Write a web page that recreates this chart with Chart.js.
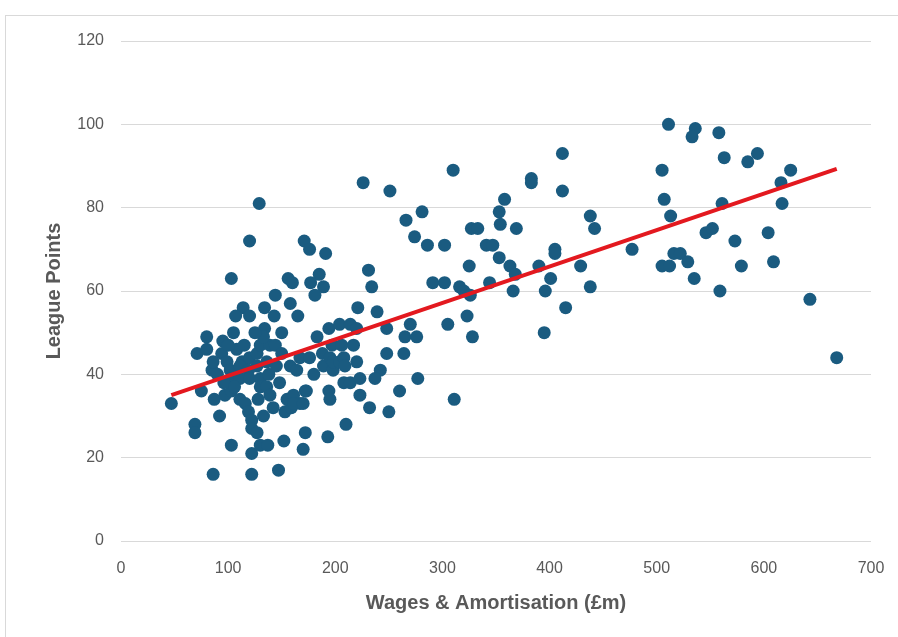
<!DOCTYPE html>
<html>
<head>
<meta charset="utf-8">
<script src="https://cdn.jsdelivr.net/npm/chart.js@4.4.1/dist/chart.umd.min.js"></script>
<style>
  body { margin: 0; background: #fff; }
  #frame { position: absolute; left: 5px; top: 15px; width: 900px; height: 640px; border-left: 1px solid #d9d9d9; border-top: 1px solid #d9d9d9; }
  #myChart { position: absolute; left: 0; top: 0; }
</style>
</head>
<body>
<div id="frame"></div>
<canvas id="myChart" width="898" height="637"></canvas>
<script>
// wages & amortisation (£m) vs league points, one entry per team-season
var wages = [
  47, 69, 69, 71, 80, 80, 75, 85, 86, 94, 99, 87, 92, 86, 103, 103, 120, 129,
  108, 113, 120, 127, 130, 139, 144, 102, 111, 119, 127, 136,
  103, 111, 120, 130, 138, 97, 103, 111, 116, 119, 122, 122, 127, 130, 136, 139,
  122, 130, 137, 152, 122, 147, 170, 172, 193, 210,
  153, 159, 167, 172, 155, 161,
  114, 107, 120, 134, 143, 150, 105, 134, 133,
  144, 156, 160, 158, 165,
  171, 176, 191, 185, 177, 189, 181,
  221, 239, 234, 231, 226, 251,
  158, 164, 167, 176, 180, 183, 188, 189, 194, 195, 197, 198, 198, 204, 204, 206,
  208, 208, 209, 214, 214, 217, 220, 220, 223, 173, 194, 195, 161, 170, 223,
  242, 237, 248, 248, 264, 265, 276, 270, 277, 260, 232, 250,
  95, 100, 90, 96, 106, 115, 125, 145, 150, 148, 142, 133, 128,
  310, 266, 281, 274, 286, 302, 327, 333, 341, 347, 353, 325, 353, 354,
  291, 302, 316, 320, 326, 323, 305, 328, 311, 344,
  383, 383, 412, 412, 358, 369, 438, 442, 405, 405, 363, 368, 390, 429,
  401, 366, 396, 438, 415, 395, 477,
  511, 536, 533, 558, 563, 585, 594, 505, 625, 616, 507, 561, 617, 513,
  546, 552, 573, 604, 516, 522, 505, 512, 529, 579, 609, 535, 559, 643, 668
];
var points = [
  33, 28, 26, 45, 46, 49, 36, 41, 43, 45, 43, 34, 30, 16, 23, 63, 72, 81,
  46, 43, 44, 45, 47, 47, 47, 41, 42, 41, 42, 43,
  39, 39, 39, 39, 40, 35, 36, 34, 33, 31, 29, 27, 26, 37, 37, 35,
  21, 23, 23, 24, 16, 17, 22, 26, 25, 28,
  31, 32, 33, 36, 34, 35,
  56, 54, 54, 56, 54, 50, 50, 51, 49,
  59, 63, 62, 57, 54,
  72, 70, 69, 64, 62, 61, 59,
  56, 55, 61, 65, 86, 84,
  42, 41, 44, 44, 40, 49, 45, 42, 51, 44, 47, 41, 43, 52, 43, 47,
  44, 38, 42, 52, 38, 47, 51, 43, 39, 36, 36, 34, 33, 33, 35,
  41, 39, 51, 45, 45, 49, 49, 52, 39, 36, 32, 31,
  48, 47, 40, 38, 37, 47, 50, 42, 45, 38, 32, 30, 34,
  89, 77, 79, 73, 71, 71, 75, 75, 71, 71, 68, 66, 79, 76,
  62, 62, 61, 60, 59, 54, 52, 49, 34, 62,
  87, 86, 93, 84, 82, 75, 78, 75, 70, 69, 66, 64, 66, 66,
  63, 60, 60, 61, 56, 50, 70,
  100, 99, 97, 98, 92, 91, 93, 89, 89, 86, 82, 81, 81, 78,
  74, 75, 72, 74, 69, 69, 66, 66, 67, 66, 67, 63, 60, 58, 44
];
// trendline ends
var trendWages = [47, 668];
var trendPoints = [35, 89.3];

var yTicks = [0, 20, 40, 60, 80, 100, 120];
var xTicks = [0, 100, 200, 300, 400, 500, 600, 700];

var teams = wages.map(function (w, i) { return {x: w, y: points[i]}; });
var trend = trendWages.map(function (w, i) { return {x: w, y: trendPoints[i]}; });

var grey = '#595959';
var fontFamily = "'Liberation Sans', Arial, sans-serif";

var ctx = document.getElementById('myChart').getContext('2d');
var myChart = new Chart(ctx, {
  type: 'scatter',
  data: {
    datasets: [{
        type: 'line',
        data: trend,
        borderColor: '#e3191f',
        borderWidth: 4,
        pointRadius: 0,
        fill: false,
        order: 0
      }, {
        data: teams,
        backgroundColor: '#1a5b80',
        borderWidth: 0,
        pointRadius: 6.5,
        pointHoverRadius: 6.5,
        order: 1
      }
    ]
  },
  options: {
    responsive: false,
    animation: false,
    layout: {
      padding: {left: 42, right: 27, top: 41, bottom: 10}
    },
    scales: {
      x: {
        type: 'linear',
        min: 0,
        max: 700,
        afterBuildTicks: function (scale) {
          scale.ticks = xTicks.map(function (v) { return {value: v}; });
        },
        afterFit: function (scale) {
          scale.height = 86;
          scale.paddingLeft = 0;
          scale.paddingRight = 0;
        },
        grid: { display: false, drawTicks: false },
        border: { display: false },
        ticks: { color: grey, font: { family: fontFamily, size: 16 }, padding: 18 },
        title: {
          display: true,
          text: 'Wages & Amortisation (£m)',
          color: grey,
          font: { family: fontFamily, size: 20, weight: 'bold' },
          padding: {top: 0, bottom: 12}
        }
      },
      y: {
        min: 0,
        max: 120,
        afterBuildTicks: function (scale) {
          scale.ticks = yTicks.map(function (v) { return {value: v}; });
        },
        afterFit: function (scale) { scale.width = 79; },
        grid: { color: '#d9d9d9', lineWidth: 1, drawTicks: false },
        border: { display: false },
        ticks: { color: grey, font: { family: fontFamily, size: 16 }, padding: 17 },
        title: {
          display: true,
          text: 'League Points',
          color: grey,
          font: { family: fontFamily, size: 20, weight: 'bold' },
          padding: {top: 0, bottom: 0}
        }
      }
    },
    plugins: {
      legend: { display: false },
      tooltip: { enabled: false }
    }
  }
});
</script>
</body>
</html>
